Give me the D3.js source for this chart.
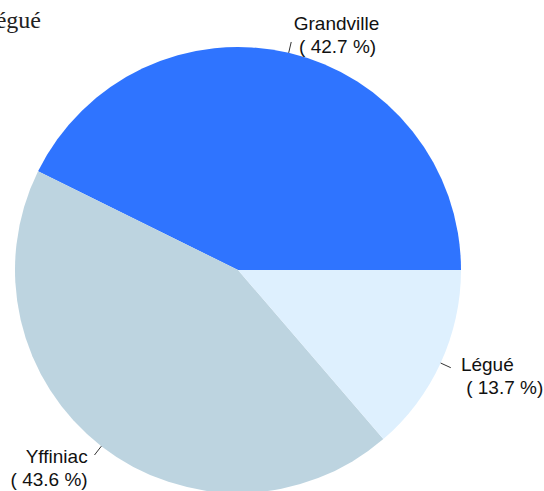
<!DOCTYPE html>
<html>
<head>
<meta charset="utf-8">
<script src="https://cdn.jsdelivr.net/npm/d3@7"></script>
<style>
  html, body { margin: 0; padding: 0; background: #fff; }
  svg { display: block; }
</style>
</head>
<body>
<script>
// Share of each commune
const categories = ["Grandville", "Yffiniac", "Légué"];
const values = [42.7, 43.6, 13.7];
const colors = ["#2f74ff", "#bdd4e0", "#def0fe"];
const title = "Grandville, Yffiniac et Légué";

const width = 544, height = 491;
const cx = 238, cy = 270, radius = 223;

const svg = d3.select("body").append("svg")
  .attr("width", width).attr("height", height);

// Title, running off the left edge
svg.append("text")
  .attr("x", 41).attr("y", 28)
  .attr("text-anchor", "end")
  .attr("font-family", "'Liberation Serif', serif")
  .attr("font-size", 24)
  .attr("fill", "#222")
  .text(title);

const g = svg.append("g").attr("transform", `translate(${cx},${cy})`);

// Slices run counter-clockwise from three o'clock
const pie = d3.pie().sort(null).value(d => d)
  .startAngle(Math.PI / 2).endAngle(Math.PI / 2 - 2 * Math.PI);
const arcs = pie(values);
const arc = d3.arc().innerRadius(0).outerRadius(radius);

g.selectAll("path.slice").data(arcs).join("path")
  .attr("class", "slice")
  .attr("d", arc)
  .attr("fill", (d, i) => colors[i]);

// Leader ticks and labels: left-aligned on the right half, right-aligned on the left
const fontSize = 19, lineH = 23;
arcs.forEach((d, i) => {
  const mid = (d.startAngle + d.endAngle) / 2;
  const sx = Math.sin(mid), sy = -Math.cos(mid);
  g.append("line")
    .attr("x1", radius * sx).attr("y1", radius * sy)
    .attr("x2", radius * 1.05 * sx).attr("y2", radius * 1.05 * sy)
    .attr("stroke", "#333").attr("stroke-width", 1);

  const tx = radius * 1.1 * sx, ty = radius * 1.1 * sy;
  const lines = [categories[i], ` ( ${values[i].toFixed(1)} %)`];
  const t = g.append("text")
    .attr("font-family", "'Liberation Sans', Arial, sans-serif")
    .attr("font-size", fontSize)
    .attr("fill", "#111")
    .attr("text-anchor", sx >= 0 ? "start" : "end")
    .style("white-space", "pre");
  lines.forEach((s, k) => t.append("tspan")
    .attr("x", tx)
    .attr("y", ty + (k - (lines.length - 1) / 2) * lineH + 4)
    .attr("dy", "0.35em")
    .text(s));
});
</script>
</body>
</html>
